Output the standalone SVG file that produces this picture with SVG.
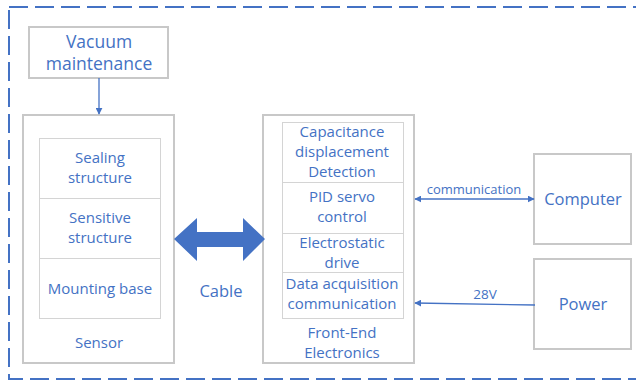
<svg xmlns="http://www.w3.org/2000/svg" width="636" height="380" viewBox="0 0 636 380">
<defs>
<style>
.t{font-family:"Open Sans","Liberation Sans",sans-serif;fill:#4472C4;text-anchor:middle}
.s14{font-size:15px}
.s13{font-size:13.5px}
.s12{font-size:13px}
.s16{font-size:16.5px}
.s17{font-size:17.5px}
.box{fill:#fff;stroke:#C8C8C8;stroke-width:2}
.inner{fill:#fff;stroke:#D4D4D4;stroke-width:1}
.ln{stroke:#4472C4;stroke-width:1.3;fill:none}
</style>
<marker id="ah" viewBox="0 0 10 10" refX="9" refY="5" markerWidth="7" markerHeight="7" orient="auto-start-reverse" markerUnits="userSpaceOnUse">
<path d="M0,0 L10,5 L0,10 z" fill="#4472C4"/>
</marker>
</defs>
<rect x="9" y="7" width="640" height="372" fill="none" stroke="#4472C4" stroke-width="2" stroke-dasharray="19,7"/>
<g id="vacuum">
<rect class="box" x="29" y="27" width="139" height="51"/>
<text class="t s17" x="99" y="48">Vacuum</text>
<text class="t s17" x="99" y="70">maintenance</text>
</g>
<g id="sensor">
<rect class="box" x="23" y="115" width="151" height="248"/>
<rect class="inner" x="39.5" y="138.5" width="121" height="180"/>
<line class="inner" x1="39.5" y1="198.5" x2="160.5" y2="198.5"/>
<line class="inner" x1="39.5" y1="258.5" x2="160.5" y2="258.5"/>
<text class="t s14" x="100" y="163">Sealing</text>
<text class="t s14" x="100" y="183">structure</text>
<text class="t s14" x="100" y="223">Sensitive</text>
<text class="t s14" x="100" y="243">structure</text>
<text class="t s14" x="100" y="294">Mounting base</text>
<text class="t s14" x="99" y="348">Sensor</text>
</g>
<g id="fee">
<rect class="box" x="263" y="115" width="151" height="248"/>
<rect class="inner" x="282.5" y="122.5" width="121" height="196"/>
<line class="inner" x1="282.5" y1="182.5" x2="403.5" y2="182.5"/>
<line class="inner" x1="282.5" y1="233.5" x2="403.5" y2="233.5"/>
<line class="inner" x1="282.5" y1="272.5" x2="403.5" y2="272.5"/>
<text class="t s14" x="342" y="137">Capacitance</text>
<text class="t s14" x="342" y="157">displacement</text>
<text class="t s14" x="342" y="177">Detection</text>
<text class="t s14" x="342" y="202">PID servo</text>
<text class="t s14" x="342" y="222">control</text>
<text class="t s14" x="342" y="248">Electrostatic</text>
<text class="t s14" x="342" y="268">drive</text>
<text class="t s14" x="342" y="289">Data acquisition</text>
<text class="t s14" x="342" y="309">communication</text>
<text class="t s14" x="342" y="338">Front-End</text>
<text class="t s14" x="342" y="358">Electronics</text>
</g>
<g id="computer">
<rect class="box" x="534" y="154" width="97" height="90"/>
<text class="t s16" x="583" y="205">Computer</text>
</g>
<g id="power">
<rect class="box" x="534" y="259" width="97" height="90"/>
<text class="t s16" x="583" y="310">Power</text>
</g>
<g id="connectors">
<line class="ln" x1="99" y1="78" x2="99" y2="114" marker-end="url(#ah)"/>
<path d="M174,239 L197,218 L197,232 L243,232 L243,218 L265,239 L243,261 L243,247 L197,247 L197,261 Z" fill="#4472C4"/>
<text class="t s16" x="221" y="297">Cable</text>
<line class="ln" x1="415" y1="199" x2="534" y2="199" marker-start="url(#ah)" marker-end="url(#ah)"/>
<text class="t s12" x="474" y="194">communication</text>
<line class="ln" x1="535" y1="305" x2="415" y2="303" marker-end="url(#ah)"/>
<text class="t s13" x="485" y="299">28V</text>
</g>
</svg>
